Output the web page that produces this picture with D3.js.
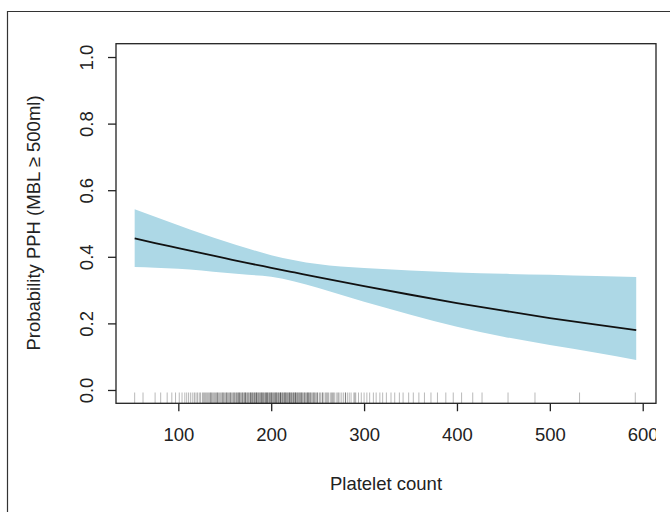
<!DOCTYPE html>
<html>
<head>
<meta charset="utf-8">
<script src="https://cdn.jsdelivr.net/npm/d3@7"></script>
<style>
  body { margin: 0; background: #fff; }
  text { font-family: "Liberation Sans", Arial, Helvetica, sans-serif; fill: #222; }
</style>
</head>
<body>
<div id="chart"></div>
<script>
// platelet count grid with fitted probability and 95% band
var platelets = [53, 75, 100, 125, 150, 175, 200, 225, 250, 300, 350, 400, 450, 500, 550, 593];
var fitProb   = [0.455, 0.441, 0.426, 0.411, 0.396, 0.381, 0.367, 0.353, 0.339, 0.312, 0.286, 0.261, 0.238, 0.216, 0.196, 0.180];
var upperProb = [0.543, 0.520, 0.495, 0.470, 0.447, 0.425, 0.405, 0.390, 0.378, 0.366, 0.359, 0.353, 0.349, 0.346, 0.342, 0.339];
var lowerProb = [0.369, 0.367, 0.364, 0.359, 0.352, 0.346, 0.340, 0.326, 0.307, 0.265, 0.226, 0.190, 0.160, 0.135, 0.112, 0.090];

// observed platelet counts for the rug
var rugValues = [53, 62, 75, 81, 88, 93, 97, 101, 104, 107, 109, 111, 113, 115, 117, 118, 120, 121, 123, 124,
  126, 127, 128, 129, 130, 131, 132, 133, 134, 135, 136, 137, 138, 139, 140, 141, 142, 143, 144, 145,
  146, 147, 148, 149, 150, 151, 152, 153, 154, 155, 156, 157, 158, 159, 160, 161, 162, 163, 164, 165,
  166, 167, 168, 169, 170, 171, 172, 173, 174, 175, 176, 177, 178, 179, 180, 181, 182, 183, 184, 185,
  186, 187, 188, 189, 190, 191, 192, 193, 194, 195, 196, 197, 198, 199, 200, 201, 202, 203, 204, 205,
  206, 207, 208, 209, 210, 211, 212, 213, 214, 215, 216, 217, 218, 219, 220, 221, 222, 223, 224, 225,
  226, 227, 228, 229, 230, 231, 232, 233, 234, 235, 236, 237, 238, 239, 240, 241, 242, 243, 244, 245,
  246, 247, 248, 249, 250, 252, 253, 255, 256, 258, 259, 261, 262, 264, 265, 267, 268, 270, 272, 274,
  276, 278, 280, 282, 284, 286, 289, 291, 294, 297, 300, 303, 306, 310, 313, 317, 320, 324, 329, 333,
  338, 342, 348, 353, 359, 365, 372, 379, 388, 396, 405, 417, 427, 455, 484, 532, 592,
  // repeats in the busy middle of the distribution
  135, 142, 148, 152, 156, 160, 163, 166, 169, 172, 175, 178, 180, 182, 184, 186, 188, 190, 192, 194,
  196, 198, 200, 202, 204, 206, 208, 210, 212, 214, 216, 218, 220, 222, 224, 226, 228, 230, 233, 236,
  239, 242, 246, 250, 255, 260, 266, 272, 280, 290,
  165, 172, 178, 184, 190, 195, 200, 205, 210, 215, 220, 226, 232, 240];

var yTicks = [0, 0.2, 0.4, 0.6, 0.8, 1.0];
var xTicks = [100, 200, 300, 400, 500, 600];

var width = 670, height = 512;
var fontSize = "18.5px";

var svg = d3.select("#chart").append("svg")
    .attr("width", width)
    .attr("height", height);

// outer frame (image is cropped at the right and bottom)
svg.append("path")
    .attr("d", "M7.5," + height + "V11.5H" + width)
    .attr("fill", "none")
    .attr("stroke", "#333")
    .attr("stroke-width", 1.2);

var x = d3.scaleLinear().domain([32.9, 614.3]).range([116, 656]);
var y = d3.scaleLinear().domain([-0.04, 1.04]).range([403.3, 43.7]);

var rows = platelets.map(function(p, i) {
    return { p: p, fit: fitProb[i], lo: lowerProb[i], hi: upperProb[i] };
});

// confidence band
var area = d3.area()
    .x(function(d) { return x(d.p); })
    .y0(function(d) { return y(d.lo); })
    .y1(function(d) { return y(d.hi); })
    .curve(d3.curveMonotoneX);

svg.append("path")
    .datum(rows)
    .attr("d", area)
    .attr("fill", "#add8e6");

var line = d3.line()
    .x(function(d) { return x(d.p); })
    .y(function(d) { return y(d.fit); })
    .curve(d3.curveMonotoneX);

svg.append("path")
    .datum(rows)
    .attr("d", line)
    .attr("fill", "none")
    .attr("stroke", "#111")
    .attr("stroke-width", 1.8);

// rug
var rugLen = (y(-0.04) - y(1.04)) * 0.03;
svg.append("g").selectAll("line")
    .data(rugValues)
    .enter().append("line")
    .attr("x1", function(d) { return x(d); })
    .attr("x2", function(d) { return x(d); })
    .attr("y1", y(-0.04))
    .attr("y2", y(-0.04) - rugLen)
    .attr("stroke", "#000")
    .attr("stroke-opacity", 0.28)
    .attr("stroke-width", 1);

// plot box
svg.append("rect")
    .attr("x", x.range()[0])
    .attr("y", y.range()[1])
    .attr("width", x.range()[1] - x.range()[0])
    .attr("height", y.range()[0] - y.range()[1])
    .attr("fill", "none")
    .attr("stroke", "#222")
    .attr("stroke-width", 1.3);

// clip for the cropped right edge
svg.append("clipPath").attr("id", "crop")
  .append("rect").attr("x", 0).attr("y", 0).attr("width", 656).attr("height", height);

// x axis
var xAxis = d3.axisBottom(x).tickValues(xTicks).tickSize(8).tickPadding(17).tickSizeOuter(0);
var gx = svg.append("g")
    .attr("transform", "translate(0," + y(-0.04) + ")")
    .attr("clip-path", "url(#crop)")
    .call(xAxis);
gx.select(".domain").remove();
gx.selectAll(".tick line").attr("stroke", "#222").attr("stroke-width", 1.3);
gx.selectAll(".tick text").style("font-size", fontSize).attr("fill", "#222");

// y axis
var yAxis = d3.axisLeft(y).tickValues(yTicks).tickSize(8).tickFormat(d3.format(".1f")).tickSizeOuter(0);
var gy = svg.append("g")
    .attr("transform", "translate(" + x.range()[0] + ",0)")
    .call(yAxis);
gy.select(".domain").remove();
gy.selectAll(".tick line").attr("stroke", "#222").attr("stroke-width", 1.3);
gy.selectAll(".tick text")
    .style("font-size", fontSize)
    .attr("fill", "#222")
    .attr("x", null)
    .attr("dy", null)
    .attr("text-anchor", "middle")
    .attr("transform", "translate(-28,0) rotate(-90)")
    .attr("dominant-baseline", "middle");

// axis titles
svg.append("text")
    .attr("x", 386)
    .attr("y", 490)
    .attr("text-anchor", "middle")
    .style("font-size", fontSize)
    .text("Platelet count");

svg.append("text")
    .attr("transform", "translate(40,223) rotate(-90)")
    .attr("text-anchor", "middle")
    .style("font-size", fontSize)
    .text("Probability PPH (MBL \u2265 500ml)");
</script>
</body>
</html>
